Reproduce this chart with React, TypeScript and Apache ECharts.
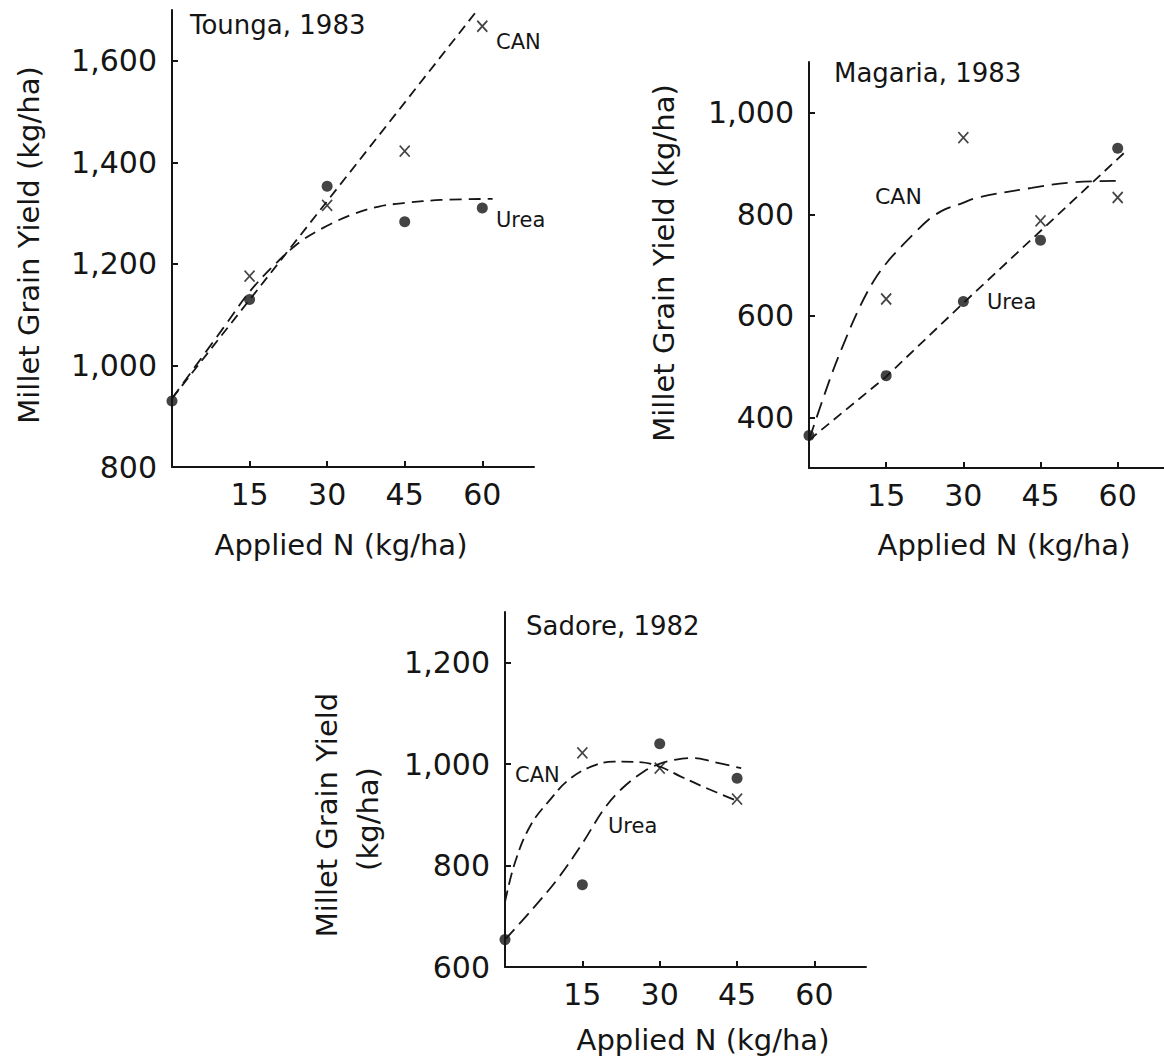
import React, { useEffect, useRef } from "react";
import * as echarts from "echarts";

// ---------- data ----------
const nTickValues = [15, 30, 45, 60];
const toungaYTicks = [800, 1000, 1200, 1400, 1600];
const magariaYTicks = [400, 600, 800, 1000];
const sadoreYTicks = [600, 800, 1000, 1200];

// Tounga, 1983
const toungaUreaN = [0, 15, 30, 45, 60];
const toungaUrea = [930, 1130, 1353, 1283, 1310];
const toungaCanN = [15, 30, 45, 60];
const toungaCan = [1176, 1315, 1422, 1668];
const toungaCanFit = [[0, 935], [60, 1712]];
const toungaUreaFit = [
  [0, 935], [10, 1075], [15, 1145], [20, 1200], [25, 1245], [30, 1275],
  [35, 1298], [40, 1313], [45, 1320], [52, 1326], [62, 1328],
];

// Magaria, 1983
const magariaUreaN = [0, 15, 30, 45, 60];
const magariaUrea = [364, 482, 628, 749, 930];
const magariaCanN = [15, 30, 45, 60];
const magariaCan = [633, 951, 787, 833];
const magariaUreaFit = [[0, 355], [15, 480], [30, 625], [45, 767], [62, 928]];
const magariaCanFit = [
  [0, 355], [4.2, 479], [7, 551], [9.8, 616], [12.6, 669], [15.4, 708],
  [18.1, 738], [20.9, 767], [23.7, 793], [26.5, 810], [29.3, 820],
  [32.8, 833], [43.3, 852], [50.2, 862], [60, 866],
];

// Sadore, 1982
const sadoreUreaN = [0, 15, 30, 45];
const sadoreUrea = [654, 762, 1040, 972];
const sadoreCanN = [15, 30, 45];
const sadoreCan = [1022, 992, 931];
const sadoreCanFit = [
  [0, 728], [2, 808], [5, 880], [9, 933], [12, 966], [16, 992],
  [21, 1005], [26, 1004], [30, 995], [34, 976], [39, 953], [45.4, 926],
];
const sadoreUreaFit = [
  [0, 654], [5.4, 715], [10.3, 775], [15.2, 847], [19.3, 913], [22.8, 953],
  [27, 986], [29.8, 1000], [33.2, 1009], [36.7, 1012], [40.2, 1005], [45.8, 992],
];

// ---------- styles ----------
const INK = "#151515";
const FONT = '"DejaVu Sans", sans-serif';
const X_MARK = "path://M0,0L10,12M10,0L0,12";

const pairs = (xs: number[], ys: number[]) => xs.map((x, i) => [x, ys[i]]);
const fmt = (v: number) => (v >= 1000 ? v.toLocaleString("en-US") : String(v));

function xAxisCfg(gridIndex: number, max: number) {
  return {
    type: "value",
    gridIndex,
    min: 0,
    max,
    splitLine: { show: false },
    axisLine: { show: true, lineStyle: { color: INK, width: 2 } },
    axisTick: { show: true, inside: true, length: 6, customValues: nTickValues, lineStyle: { color: INK, width: 2 } },
    axisLabel: { customValues: nTickValues, color: INK, fontSize: 30, fontFamily: FONT, margin: 12 },
  };
}

function yAxisCfg(gridIndex: number, min: number, max: number, ticks: number[]) {
  return {
    type: "value",
    gridIndex,
    min,
    max,
    splitLine: { show: false },
    axisLine: { show: true, lineStyle: { color: INK, width: 2 } },
    axisTick: { show: true, inside: true, length: 6, customValues: ticks, lineStyle: { color: INK, width: 2 } },
    axisLabel: { customValues: ticks, color: INK, fontSize: 30, fontFamily: FONT, margin: 15, formatter: fmt },
  };
}

function panelSeries(idx: number, ureaPts: number[][], canPts: number[][], canFit: number[][], ureaFit: number[][], canSmooth: number | boolean, ureaSmooth: number | boolean, canDash: number[], ureaDash: number[]) {
  return [
    {
      type: "line", xAxisIndex: idx, yAxisIndex: idx, data: canFit, showSymbol: false, symbol: "none",
      smooth: canSmooth, lineStyle: { color: INK, width: 1.8, type: canDash }, silent: true,
    },
    {
      type: "line", xAxisIndex: idx, yAxisIndex: idx, data: ureaFit, showSymbol: false, symbol: "none",
      smooth: ureaSmooth, lineStyle: { color: INK, width: 1.8, type: ureaDash }, silent: true,
    },
    {
      type: "scatter", xAxisIndex: idx, yAxisIndex: idx, data: ureaPts, symbol: "circle", symbolSize: 11,
      itemStyle: { color: INK },
    },
    {
      type: "scatter", xAxisIndex: idx, yAxisIndex: idx, data: canPts, symbol: X_MARK, symbolSize: [10, 11],
      itemStyle: { color: "transparent", borderColor: INK, borderWidth: 1.7 },
    },
  ];
}

function txt(text: string, x: number, y: number, size: number, align = "left", rotation = 0) {
  return {
    type: "text",
    x,
    y,
    rotation,
    style: {
      text,
      fill: INK,
      fontSize: size,
      fontFamily: FONT,
      textAlign: align,
      textVerticalAlign: "middle",
      verticalAlign: "middle",
    },
  };
}

export default function App() {
  const ref = useRef<HTMLDivElement>(null);
  useEffect(() => {
    if (!ref.current) return;
    const chart = echarts.init(ref.current, undefined, { renderer: "svg" });
    const option: any = {
      animation: false,
      backgroundColor: "#ffffff",
      grid: [
        { left: 172, top: 10, width: 362, height: 457, outerBoundsMode: "none" },
        { left: 809, top: 62, width: 355, height: 406, outerBoundsMode: "none" },
        { left: 505, top: 612, width: 361, height: 355, outerBoundsMode: "none" },
      ],
      xAxis: [xAxisCfg(0, 70), xAxisCfg(1, 69), xAxisCfg(2, 70)],
      yAxis: [
        yAxisCfg(0, 800, 1700, toungaYTicks),
        yAxisCfg(1, 300, 1100, magariaYTicks),
        yAxisCfg(2, 600, 1300, sadoreYTicks),
      ],
      series: [
        ...panelSeries(0, pairs(toungaUreaN, toungaUrea), pairs(toungaCanN, toungaCan), toungaCanFit, toungaUreaFit, false, 0.35, [10, 6], [12, 7]),
        ...panelSeries(1, pairs(magariaUreaN, magariaUrea), pairs(magariaCanN, magariaCan), magariaCanFit, magariaUreaFit, 0.35, false, [16, 8], [10, 6]),
        ...panelSeries(2, pairs(sadoreUreaN, sadoreUrea), pairs(sadoreCanN, sadoreCan), sadoreCanFit, sadoreUreaFit, 0.4, 0.35, [12, 6], [14, 7]),
      ],
      graphic: [
        // panel titles
        txt("Tounga, 1983", 190, 25, 26),
        txt("Magaria, 1983", 834, 73, 26),
        txt("Sadore, 1982", 526, 626, 26),
        // curve labels
        txt("CAN", 496, 42, 21),
        txt("Urea", 496, 220, 21),
        txt("CAN", 875, 196, 22),
        txt("Urea", 987, 302, 21),
        txt("CAN", 515, 775, 21),
        txt("Urea", 608, 826, 21),
        // x axis titles
        txt("Applied N (kg/ha)", 341, 545, 29, "center"),
        txt("Applied N (kg/ha)", 1004, 545, 29, "center"),
        txt("Applied N (kg/ha)", 703, 1040, 29, "center"),
        // y axis titles
        txt("Millet Grain Yield (kg/ha)", 29, 245, 29, "center", Math.PI / 2),
        txt("Millet Grain Yield (kg/ha)", 664, 263, 29, "center", Math.PI / 2),
        txt("Millet Grain Yield", 327, 815, 29, "center", Math.PI / 2),
        txt("(kg/ha)", 368, 819, 29, "center", Math.PI / 2),
      ],
    };
    chart.setOption(option);
    return () => chart.dispose();
  }, []);
  return (
    <div
      ref={ref}
      style={{ position: "absolute", left: 0, top: 0, width: 1164, height: 1061, background: "#fff" }}
    />
  );
}
